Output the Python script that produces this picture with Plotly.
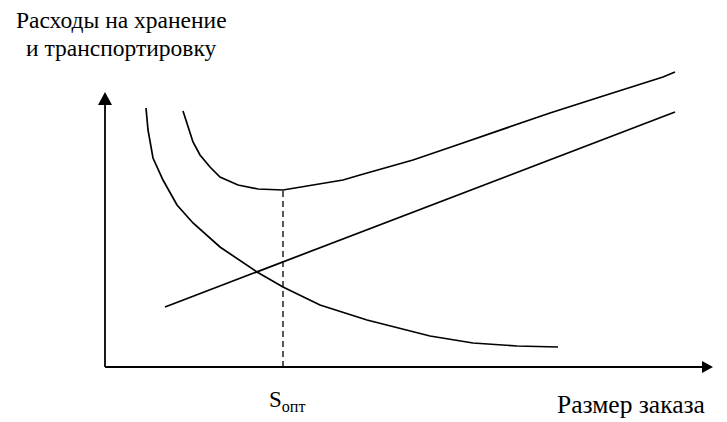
import plotly.graph_objects as go

# Data (abstract units: order size on x, cost on y)
order_costs_x = [41, 43, 48, 58, 72, 88, 115, 152, 178, 215, 262, 325, 368, 412, 453]
order_costs_y = [259, 237, 209, 187, 162, 144, 120, 95, 80, 62, 47, 31, 24, 21, 20]

storage_x = [60, 570]
storage_y = [60, 255]

total_x = [78, 88, 95, 105, 115, 133, 153, 178, 208, 238, 255, 308, 352, 395, 445, 495, 558, 570]
total_y = [256, 225, 212, 200, 190, 182, 178, 177, 182, 187, 192, 207, 222, 237, 254, 270, 290, 295]

s_opt = 178
s_opt_cost = 177

x_axis_end = 608
y_axis_end = 275

title_line1 = "Расходы на хранение"
title_line2 = "и транспортировку"
x_label = "Размер заказа"
s_label = "S<sub>опт</sub>"

FONT = "Liberation Serif"
LW = 1.7

fig = go.Figure()
line_style = dict(color="black", width=LW)
fig.add_trace(go.Scatter(x=order_costs_x, y=order_costs_y, mode="lines", line=line_style, hoverinfo="skip"))
fig.add_trace(go.Scatter(x=storage_x, y=storage_y, mode="lines", line=line_style, hoverinfo="skip"))
fig.add_trace(go.Scatter(x=total_x, y=total_y, mode="lines", line=line_style, hoverinfo="skip"))
fig.add_trace(go.Scatter(x=[s_opt, s_opt], y=[0, s_opt_cost], mode="lines",
                         line=dict(color="black", width=1.3, dash="6px,4px"), hoverinfo="skip"))

# axes
fig.add_trace(go.Scatter(x=[0, x_axis_end - 10], y=[0, 0], mode="lines", line=dict(color="black", width=1.8), hoverinfo="skip"))
fig.add_trace(go.Scatter(x=[0, 0], y=[0, y_axis_end - 12], mode="lines", line=dict(color="black", width=1.8), hoverinfo="skip"))

shapes = [
    dict(type="path", xref="x", yref="y",
         path=f"M {x_axis_end} 0 L {x_axis_end-11} 6 L {x_axis_end-11} -6 Z",
         fillcolor="black", line=dict(width=0)),
    dict(type="path", xref="x", yref="y",
         path=f"M 0 {y_axis_end} L -7 {y_axis_end-13} L 7 {y_axis_end-13} Z",
         fillcolor="black", line=dict(width=0)),
]

annotations = [
    dict(x=16, y=347, text=title_line1, showarrow=False, xanchor="center", yanchor="middle",
         font=dict(family=FONT, size=23.5, color="black")),
    dict(x=16, y=319, text=title_line2, showarrow=False, xanchor="center", yanchor="middle",
         font=dict(family=FONT, size=23.5, color="black")),
    dict(x=526, y=-37, text=x_label, showarrow=False, xanchor="center", yanchor="middle",
         font=dict(family=FONT, size=25.5, color="black")),
    dict(x=182, y=-34, text=s_label, showarrow=False, xanchor="center", yanchor="middle",
         font=dict(family=FONT, size=23, color="black")),
]

fig.update_layout(
    width=727, height=422,
    margin=dict(l=0, r=0, t=0, b=0),
    paper_bgcolor="white", plot_bgcolor="white",
    showlegend=False,
    shapes=shapes,
    annotations=annotations,
    xaxis=dict(range=[-105, 622], visible=False, fixedrange=True),
    yaxis=dict(range=[-55, 367], visible=False, fixedrange=True),
)

fig.write_html("out.html", config={"displayModeBar": False},
               post_script="document.body.style.margin='0';document.body.style.overflow='hidden';")
